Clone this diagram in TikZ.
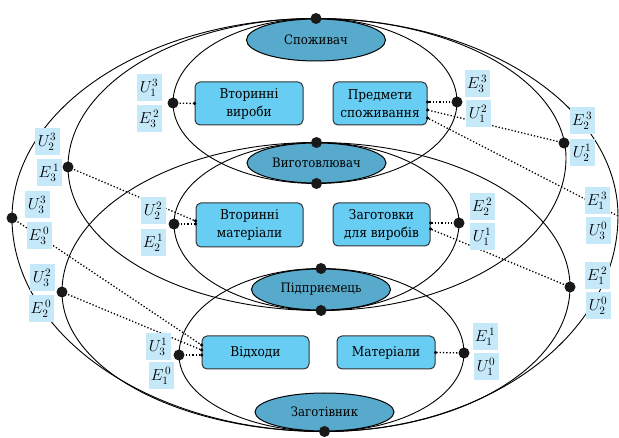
\documentclass[tikz,border=0pt]{standalone}
\usepackage{fix-cm}
\usepackage{fontspec}
\setmainfont{DejaVu Serif Condensed}
\usetikzlibrary{calc,shapes.geometric,backgrounds}

\definecolor{boxblue}{RGB}{104,205,243}
\definecolor{agentblue}{RGB}{88,170,205}
\definecolor{labelblue}{RGB}{198,233,250}

% lens through top, left, bottom, right
\newcommand\lensk{0.5523}
\newcommand\drawlens[4]{%
  \draw [lensline] (#1)
    .. controls ($(#1)!\lensk!(#1 -| #2)$) and ($(#2)!\lensk!(#1 -| #2)$) .. (#2)
    .. controls ($(#2)!\lensk!(#3 -| #2)$) and ($(#3)!\lensk!(#3 -| #2)$) .. (#3)
    .. controls ($(#3)!\lensk!(#3 -| #4)$) and ($(#4)!\lensk!(#3 -| #4)$) .. (#4)
    .. controls ($(#4)!\lensk!(#1 -| #4)$) and ($(#1)!\lensk!(#1 -| #4)$) .. (#1);}

\begin{document}
\begin{tikzpicture}[
	x=1pt, y=-1pt,
	lensline/.style={line width=0.9pt},
	agent/.style={ellipse, draw=black, line width=1pt, fill=agentblue, minimum width=139pt, minimum height=41pt, inner sep=0pt, font=\fontsize{13}{15}\selectfont},
	box/.style={draw=black!80, line width=1pt, rounded corners=5pt, fill=boxblue, align=center, inner sep=0pt, minimum height=43pt, font=\fontsize{13.5}{18}\selectfont},
	lab/.style={fill=labelblue, inner sep=1pt, minimum width=25pt, minimum height=27pt, font=\fontsize{16}{18}\selectfont},
	bigdot/.style={circle, fill=black!90, inner sep=0pt, minimum size=11pt},
	tip/.style={circle, fill=black, inner sep=0pt, minimum size=3.5pt},
	link/.style={line width=1.3pt, dash pattern=on 1.3pt off 2pt},
]
\useasboundingbox (0,0) rectangle (619,438);

%%% AGENTS
\node [agent, minimum height=42pt] (spozhyvach) at (316,40) {Споживач};
\node [agent, minimum height=40pt] (vyhotovlyuvach) at (316.5,163) {Виготовлювач};
\node [agent] (pidpryiemets) at (321,289.5) {Підприємець};
\node [agent, minimum height=38pt] (zahotivnyk) at (324.5,412) {Заготівник};

%%% BOXES
\node [box, minimum width=108pt] (vyroby) at (249,103.5) {Вторинні\\вироби};
\node [box, minimum width=94pt] (predmety) at (380,103.5) {Предмети\\споживання};
\node [box, minimum width=107pt, minimum height=44pt] (vmaterialy) at (249.5,225) {Вторинні\\матеріали};
\node [box, minimum width=97pt] (zagotovky) at (381.5,224.5) {Заготовки\\для виробів};
\node [box, minimum width=107pt, minimum height=33pt] (vidkhody) at (255.5,352.5) {Відходи};
\node [box, minimum width=98pt, minimum height=33pt] (materialy) at (386,352.5) {Матеріали};

%%% LENS SIDES
\coordinate (aL) at (173,103);  \coordinate (aR) at (457,102);
\coordinate (bL) at (174,224);  \coordinate (bR) at (459,223);
\coordinate (cL) at (179,355);  \coordinate (cR) at (464,353);
\coordinate (dL) at (68,167);   \coordinate (dR) at (566,158);
\coordinate (dRdot) at (564,143);
\coordinate (eL) at (62,292);   \coordinate (eR) at (570,287);
\coordinate (fL) at (12,218);   \coordinate (fR) at (618,216);

%%% BOX ENDS
\coordinate (pe1) at ($(predmety.east)+(0,-1.5)$);
\coordinate (pe2) at ($(predmety.east)+(0,6.5)$);
\coordinate (pe3) at ($(predmety.east)+(0,14.5)$);
\coordinate (mw1) at ($(vmaterialy.west)+(0,-4)$);
\coordinate (mw2) at ($(vmaterialy.west)+(0,-1)$);
\coordinate (ze1) at ($(zagotovky.east)+(0,-1.5)$);
\coordinate (ze2) at ($(zagotovky.east)+(0,4.5)$);
\coordinate (vw1) at ($(vidkhody.west)+(0,-7.5)$);
\coordinate (vw2) at ($(vidkhody.west)+(0,-2.5)$);
\coordinate (vw3) at ($(vidkhody.west)+(0,2.5)$);

\begin{pgfonlayer}{background}
\drawlens{spozhyvach.north}{aL}{vyhotovlyuvach.south}{aR}
\drawlens{vyhotovlyuvach.north}{bL}{pidpryiemets.south}{bR}
\drawlens{pidpryiemets.north}{cL}{zahotivnyk.south}{cR}
\drawlens{spozhyvach.north}{dL}{pidpryiemets.south}{dR}
\drawlens{vyhotovlyuvach.north}{eL}{zahotivnyk.south}{eR}
\drawlens{spozhyvach.north}{fL}{zahotivnyk.south}{fR}

\draw [link] (aL) -- (vyroby.west);
\draw [link] (aR) -- (pe1);
\draw [link] (dRdot) -- (pe2);
\draw [link] (fR) -- (pe3);
\draw [link] (dL) -- (mw1);
\draw [link] (bL) -- (mw2);
\draw [link] (bR) -- (ze1);
\draw [link] (eR) -- (ze2);
\draw [link] (fL) -- (vw1);
\draw [link] (eL) -- (vw2);
\draw [link] (cL) -- (vw3);
\draw [link] (cR) -- (materialy.east);
\end{pgfonlayer}

\foreach \p in {vyroby.west,pe1,pe2,pe3,mw1,mw2,ze1,ze2,vw1,vw2,vw3,materialy.east}
	\node [tip] at (\p) {};

%%% LABELS
\node [lab] (u13) at (149,88) {$U_1^3$};
\node [lab] (e32) at (149,119) {$E_3^{\,2}$};
\node [lab] (e33) at (477,84) {$E_3^{\,3}$};
\node [lab] (u12) at (478,114) {$U_1^2$};
\node [lab] (u23) at (47,142) {$U_2^3$};
\node [lab] (e31) at (49,173) {$E_3^{\,1}$};
\node [lab] (u33) at (37,205) {$U_3^3$};
\node [lab] (e30) at (39,236) {$E_3^{\,0}$};
\node [lab] (u22) at (153,211) {$U_2^2$};
\node [lab] (e21) at (153,243) {$E_2^{\,1}$};
\node [lab] (e22) at (482,207) {$E_2^{\,2}$};
\node [lab] (u11) at (482,237) {$U_1^1$};
\node [lab] (e23) at (582,121) {$E_2^{\,3}$};
\node [lab] (u21) at (582,153) {$U_2^1$};
\node [lab] (e13) at (597,201) {$E_1^{\,3}$};
\node [lab] (u30) at (598,231) {$U_3^0$};
\node [lab] (u32) at (42,278) {$U_3^2$};
\node [lab] (e20) at (41,309) {$E_2^{\,0}$};
\node [lab] (e12) at (597,276) {$E_1^{\,2}$};
\node [lab] (u20) at (598,306) {$U_2^0$};
\node [lab] (u31) at (158,347) {$U_3^1$};
\node [lab] (e10) at (161,376) {$E_1^{\,0}$};
\node [lab] (e11) at (485,337) {$E_1^{\,1}$};
\node [lab] (u10) at (486,367) {$U_1^0$};

%%% DOTS
\foreach \p in {spozhyvach.north,vyhotovlyuvach.north,vyhotovlyuvach.south,pidpryiemets.north,pidpryiemets.south,zahotivnyk.south,aL,aR,bL,bR,cL,cR,dL,dRdot,eL,eR,fL}
	\node [bigdot] at (\p) {};

\end{tikzpicture}
\end{document}
